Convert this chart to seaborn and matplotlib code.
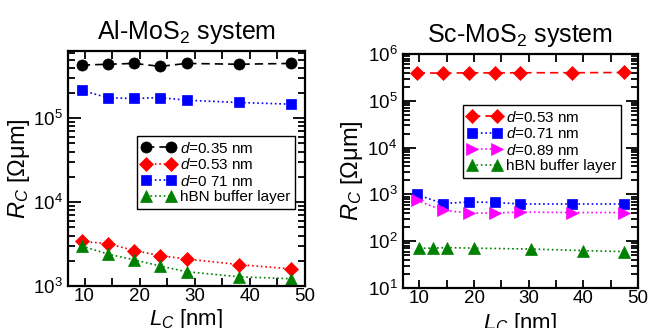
import matplotlib
matplotlib.use('Agg')  # без дисплея
import matplotlib.pyplot as plt
from matplotlib.ticker import MultipleLocator, LogLocator
import seaborn as sns

# Длина контакта L_C, нм
lc = [9.5, 14.25, 19, 23.75, 28.5, 38, 47.5]
lc_sc_hbn = [10, 12.5, 15, 20, 30.5, 40, 47.5]

# Al-MoS2: контактное сопротивление, Ом*мкм
al_d035 = [4.3e5, 4.4e5, 4.5e5, 4.15e5, 4.5e5, 4.4e5, 4.5e5]
al_d053 = [3.4e3, 3.2e3, 2.65e3, 2.3e3, 2.1e3, 1.8e3, 1.6e3]
al_d071 = [2.15e5, 1.75e5, 1.72e5, 1.76e5, 1.64e5, 1.54e5, 1.47e5]
al_hbn = [3.0e3, 2.4e3, 2.05e3, 1.73e3, 1.48e3, 1.29e3, 1.22e3]

# Sc-MoS2
sc_d053 = [4.0e5, 3.9e5, 4.0e5, 3.95e5, 4.0e5, 4.0e5, 4.05e5]
sc_d071 = [1.0e3, 6.4e2, 6.9e2, 6.75e2, 6.25e2, 6.25e2, 6.25e2]
sc_d089 = [7.5e2, 4.6e2, 4.0e2, 4.0e2, 4.2e2, 4.1e2, 4.1e2]
sc_hbn = [71, 71, 73, 71, 68, 63, 60]

al_labels = ['$d$=0.35 nm', '$d$=0.53 nm', '$d$=0 71 nm', 'hBN buffer layer']
sc_labels = ['$d$=0.53 nm', '$d$=0.71 nm', '$d$=0.89 nm', 'hBN buffer layer']

sns.set_style('ticks')
plt.rcParams['font.family'] = ['Liberation Sans', 'DejaVu Sans']
plt.rcParams['mathtext.fontset'] = 'custom'
plt.rcParams['mathtext.rm'] = 'Liberation Sans'
plt.rcParams['mathtext.it'] = 'Liberation Sans:italic'
plt.rcParams['axes.linewidth'] = 1.6
for key in ('axes.edgecolor', 'text.color', 'axes.labelcolor',
            'xtick.color', 'ytick.color'):
    plt.rcParams[key] = 'black'

fig = plt.figure(figsize=(6.51, 3.28), dpi=100)
ax1 = fig.add_axes([0.1045, 0.128, 0.364, 0.716])
ax2 = fig.add_axes([0.619, 0.122, 0.361, 0.713])


def draw(ax, x, y, color, marker, ls, ms, label):
    sns.lineplot(x=x, y=y, ax=ax, color=color, marker=marker, linestyle=ls,
                 markersize=ms, markeredgecolor=color, markeredgewidth=0.5,
                 linewidth=1.2, label=label)


draw(ax1, lc, al_d035, 'black', 'o', (0, (5, 3)), 8, al_labels[0])
draw(ax1, lc, al_d053, 'red', 'D', ':', 7, al_labels[1])
draw(ax1, lc, al_d071, 'blue', 's', ':', 7.5, al_labels[2])
draw(ax1, lc, al_hbn, 'green', '^', ':', 8.5, al_labels[3])

draw(ax2, lc, sc_d053, 'red', 'D', (0, (5, 3)), 7, sc_labels[0])
draw(ax2, lc, sc_d071, 'blue', 's', ':', 7.5, sc_labels[1])
draw(ax2, lc, sc_d089, 'magenta', '>', ':', 8.5, sc_labels[2])
draw(ax2, lc_sc_hbn, sc_hbn, 'green', '^', ':', 8.5, sc_labels[3])

ax1.set_ylim(1e3, 6.3e5)
ax2.set_ylim(10, 1e6)

for ax, title, lx, ly, anchor in (
        (ax1, 'Al-MoS$_2$ system', -0.15, -0.088, (0.291, 0.638)),
        (ax2, 'Sc-MoS$_2$ system', -0.16, -0.097, (0.255, 0.782))):
    ax.set_yscale('log')
    ax.set_xlim(7, 50)
    ax.xaxis.set_major_locator(MultipleLocator(10))
    ax.xaxis.set_minor_locator(MultipleLocator(5))
    ax.yaxis.set_major_locator(LogLocator(base=10))
    ax.yaxis.set_minor_locator(LogLocator(base=10, subs=range(2, 10), numticks=20))
    ax.tick_params(which='both', direction='in', top=True, right=True,
                   labelsize=13.5, width=1.3, pad=4)
    ax.tick_params(axis='x', which='both', pad=1.5)
    ax.tick_params(axis='y', which='major', length=9)
    ax.tick_params(axis='y', which='minor', length=5)
    ax.tick_params(axis='x', which='both', length=6)
    ax.set_title(title, fontsize=18, pad=9)
    ax.set_xlabel('$L_C$ [nm]', fontsize=16)
    ax.set_ylabel('$R_C$ [Ω\u03bcm]', fontsize=17)
    ax.xaxis.set_label_coords(0.5, ly)
    ax.yaxis.set_label_coords(lx, 0.5)
    leg = ax.legend(loc='upper left', bbox_to_anchor=anchor, numpoints=2,
                    handlelength=2.2, handletextpad=0.3, borderaxespad=0,
                    fancybox=False, edgecolor='black', framealpha=1,
                    fontsize=11, labelspacing=0.1, borderpad=0.3)
    leg.get_frame().set_linewidth(1.0)

fig.savefig('out.png', dpi=100)
